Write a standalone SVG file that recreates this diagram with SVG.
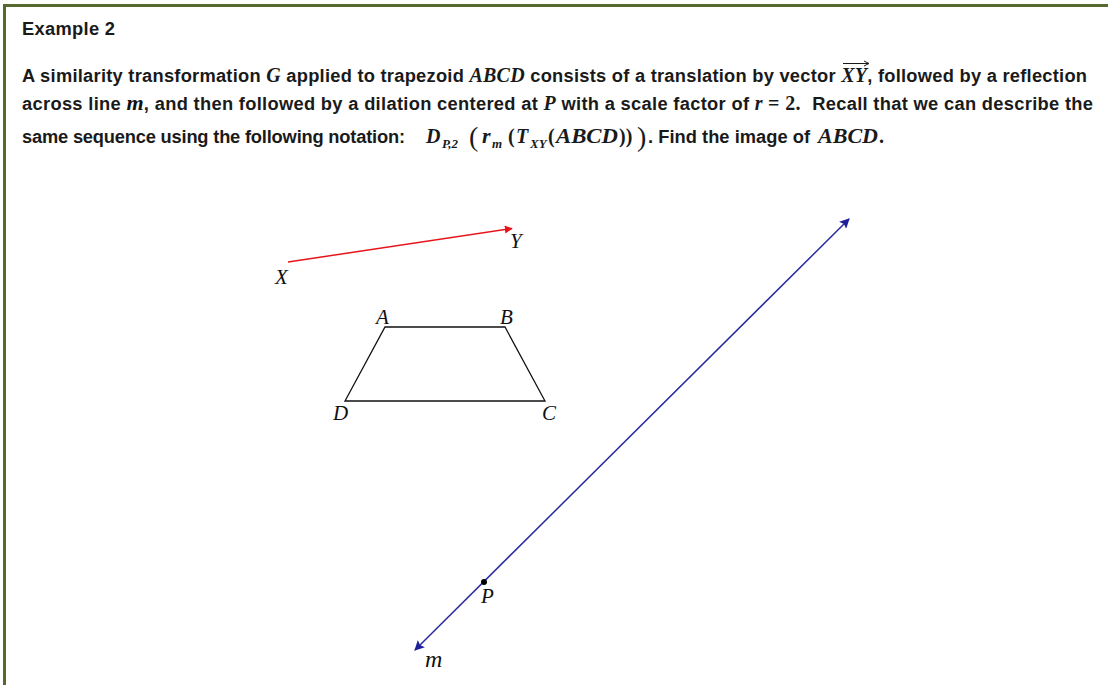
<svg xmlns="http://www.w3.org/2000/svg" width="1108" height="685" viewBox="0 0 1108 685">
<style>
.s{font-family:"Liberation Sans",Arial,sans-serif;font-weight:bold;font-size:18.3px;fill:#1a1a1a}
.mi{font-family:"Liberation Serif","Times New Roman",serif;font-weight:bold;font-style:italic;font-size:20px;fill:#1a1a1a}
.mn{font-family:"Liberation Serif","Times New Roman",serif;font-weight:bold;font-size:20px;fill:#1a1a1a}
.sub{font-family:"Liberation Serif","Times New Roman",serif;font-weight:bold;font-style:italic;font-size:13px;fill:#1a1a1a}
.big{font-family:"Liberation Serif","Times New Roman",serif;font-size:28px;fill:#1a1a1a}
.lbl{font-family:"Liberation Serif","Times New Roman",serif;font-style:italic;font-size:21px;fill:#111}
</style>
<defs>
<marker id="ar" viewBox="0 0 10 10" refX="9" refY="5" markerWidth="8" markerHeight="8" markerUnits="userSpaceOnUse" orient="auto"><path d="M0,0 L10,5 L0,10 z" fill="#e8141b"/></marker>
<marker id="ab" viewBox="0 0 10 10" refX="9" refY="5" markerWidth="10" markerHeight="10" markerUnits="userSpaceOnUse" orient="auto-start-reverse"><path d="M0,0 L10,5 L0,10 L2,5 z" fill="#1f1f9a"/></marker>
</defs>
<rect width="1108" height="685" fill="#fff"/>
<path d="M4.5,685 V5.5 H1108" fill="none" stroke="#56692f" stroke-width="3"/>

<g id="text">
<text class="s" x="22" y="35" textLength="93">Example 2</text>

<text x="22" y="82" textLength="1065"><tspan class="s">A similarity transformation </tspan><tspan class="mi">G</tspan><tspan class="s"> applied to trapezoid </tspan><tspan class="mi">ABCD</tspan><tspan class="s"> consists of a translation by vector </tspan><tspan class="mi">XY</tspan><tspan class="s">, followed by a reflection</tspan></text>
<path d="M843,63.5 H868 M864,61 L869,63.5 L864,66" fill="none" stroke="#1a1a1a" stroke-width="1"/>

<text x="22" y="110" textLength="1071"><tspan class="s">across line </tspan><tspan class="lbl" style="font-weight:bold;font-size:22px">m</tspan><tspan class="s">, and then followed by a dilation centered at </tspan><tspan class="mi">P</tspan><tspan class="s"> with a scale factor of </tspan><tspan class="mi">r</tspan><tspan class="mn"> = 2.</tspan><tspan class="s" dx="6"> Recall that we can describe the</tspan></text>

<text class="s" x="22" y="143" textLength="383">same sequence using the following notation:</text>
<text class="mi" x="426" y="143">D</text>
<text class="sub" x="442" y="148">P,2</text>
<text class="big" x="469" y="146">(</text>
<text class="mi" x="482" y="143" style="font-size:22px">r</text>
<text class="sub" x="492" y="148">m</text>
<text class="mn" x="508" y="143">(</text>
<text class="mi" x="516" y="143">T</text>
<text class="sub" x="530" y="148">XY</text>
<text class="mn" x="548" y="143">(</text>
<text class="mi" x="556" y="143" textLength="62" lengthAdjust="spacingAndGlyphs">ABCD</text>
<text class="mn" x="619" y="143">))</text>
<text class="big" x="637" y="146">)</text>
<text class="s" x="648" y="143" textLength="162">.  Find the image of</text>
<text class="mi" x="818" y="143" textLength="60" lengthAdjust="spacingAndGlyphs">ABCD</text>
<text class="mn" x="879" y="143">.</text>
</g>

<g id="connectors">
<line id="vecXY" x1="288" y1="262" x2="512" y2="228.5" stroke="#e8141b" stroke-width="1.5" marker-end="url(#ar)"/>
<line id="lineM" x1="415" y1="650" x2="849" y2="219" stroke="#2a2aa0" stroke-width="1.5" marker-start="url(#ab)" marker-end="url(#ab)"/>
</g>

<g id="trapezoid">
<polygon points="385,327 505,327 545,401 345,401" fill="none" stroke="#111" stroke-width="1.3"/>
</g>

<g id="labels">
<text class="lbl" x="275" y="284">X</text>
<text class="lbl" x="510" y="248">Y</text>
<text class="lbl" x="376" y="324">A</text>
<text class="lbl" x="500" y="324">B</text>
<text class="lbl" x="542" y="420">C</text>
<text class="lbl" x="333" y="420">D</text>
</g>

<g id="pointP">
<circle cx="484" cy="582" r="3" fill="#000"/>
<text class="lbl" x="481" y="603">P</text>
</g>
<text class="lbl" x="425" y="667" style="font-size:24px">m</text>
</svg>
